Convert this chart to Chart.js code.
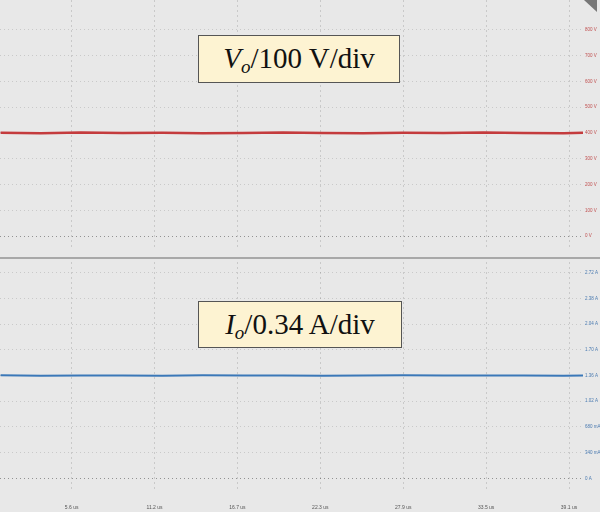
<!DOCTYPE html>
<html>
<head>
<meta charset="utf-8">
<script src="https://cdn.jsdelivr.net/npm/chart.js@4"></script>
<style>
  html, body { margin: 0; padding: 0; background: #e8e8e8; }
  #wrap { position: relative; width: 600px; height: 512px; overflow: hidden; background: #e8e8e8; }
  .panel { position: absolute; left: 0; width: 600px; }
  #topPanel { top: 0; height: 250px; }
  #botPanel { top: 262px; height: 250px; }
  #sep { position: absolute; left: 0; top: 257px; width: 600px; height: 2px; background: #a8a8a8; }
  .label {
    position: absolute; background: #fdf3d2; border: 1px solid #555;
    font-family: "Liberation Serif", "DejaVu Serif", serif; font-size: 29px; color: #111;
    line-height: 44px; text-align: center; white-space: nowrap;
  }
  .label sub { font-size: 19px; vertical-align: -5px; line-height: 0; }
  #marker { position: absolute; right: 3px; top: 0; width: 0; height: 0;
    border-left: 13px solid transparent; border-top: 12px solid #777; }
</style>
</head>
<body>
<div id="wrap">
  <div class="panel" id="topPanel"><canvas id="voChart"></canvas></div>
  <div id="sep"></div>
  <div class="panel" id="botPanel"><canvas id="ioChart"></canvas></div>
  <div class="label" style="left:198px; top:35px; width:200px; height:46px;"><i>V<sub>o</sub></i>/100 V/div</div>
  <div class="label" style="left:198px; top:301px; width:202px; height:45px;"><i>I<sub>o</sub></i>/0.34 A/div</div>
  <div id="marker"></div>
</div>
<script>
// ── DATA ──
const timeUs   = [0.8, 3.5, 6.2, 9.0, 11.7, 14.4, 17.1, 19.8, 22.5, 25.2, 27.9, 30.6, 33.3, 36.0, 38.7, 40.0];
const voVolts  = [401, 399, 402, 400, 401, 399, 400, 402, 400, 399, 401, 400, 402, 400, 399, 401];
const ioAmps   = [1.362, 1.358, 1.361, 1.360, 1.357, 1.362, 1.359, 1.361, 1.358, 1.360, 1.362, 1.359, 1.360, 1.361, 1.358, 1.360];

const xTickVals   = [5.58, 11.16, 16.74, 22.32, 27.9, 33.48, 39.06];
const xTickLabels = ['5.6 us', '11.2 us', '16.7 us', '22.3 us', '27.9 us', '33.5 us', '39.1 us'];

const voTickVals   = [0, 100, 200, 300, 400, 500, 600, 700, 800];
const voTickLabels = ['0 V', '100 V', '200 V', '300 V', '400 V', '500 V', '600 V', '700 V', '800 V'];

const ioTickVals   = [0, 0.34, 0.68, 1.02, 1.36, 1.70, 2.04, 2.38, 2.72];
const ioTickLabels = ['0 A', '340 mA', '680 mA', '1.02 A', '1.36 A', '1.70 A', '2.04 A', '2.38 A', '2.72 A'];

// ── SHARED HELPERS ──
const gridColor = 'rgba(80,80,80,0.2)';
// the zero line of each trace is a bit darker on the scope
const yGridColor = ctx => (ctx.tick && ctx.tick.value === 0) ? 'rgba(60,60,60,0.5)' : gridColor;

function fixedTicks(vals) {
    return scale => { scale.ticks = vals.map(v => ({ value: v })); };
}

function xAxis(showLabels) {
    return {
        type: 'linear',
        min: 0.76,
        max: 40.0,
        afterBuildTicks: fixedTicks(xTickVals),
        afterFit: s => { s.height = showLabels ? 20 : 0; s.paddingLeft = 0; s.paddingRight = 0; },
        border: { display: false, dash: [2, 3] },
        grid: { color: gridColor, drawTicks: false, lineWidth: 1 },
        ticks: {
            display: showLabels,
            color: '#555',
            font: { family: 'Liberation Sans', size: 5 },
            padding: 13,
            maxRotation: 0,
            callback: (v, i) => xTickLabels[i]
        }
    };
}

function yAxis(min, max, vals, labels, color) {
    return {
        position: 'right',
        min: min,
        max: max,
        afterBuildTicks: fixedTicks(vals),
        afterFit: s => { s.width = 17; s.paddingTop = 0; s.paddingBottom = 0; },
        border: { display: false, dash: [1, 3] },
        grid: { color: yGridColor, drawTicks: false },
        ticks: {
            color: color,
            font: { family: 'Liberation Sans', size: 4.5 },
            padding: 2,
            callback: (v, i) => labels[i]
        }
    };
}

function makeChart(id, values, color, width, y) {
    return new Chart(document.getElementById(id), {
        type: 'line',
        data: {
            datasets: [{
                data: timeUs.map((t, i) => ({ x: t, y: values[i] })),
                borderColor: color,
                borderWidth: width,
                pointRadius: 0,
                tension: 0
            }]
        },
        options: {
            responsive: false,
            animation: false,
            layout: { padding: 0 },
            plugins: { legend: { display: false }, tooltip: { enabled: false } },
            scales: { x: xAxis(id === 'ioChart'), y: y }
        }
    });
}

const c1 = document.getElementById('voChart');
c1.width = 600; c1.height = 250;
const c2 = document.getElementById('ioChart');
c2.width = 600; c2.height = 250;

// top panel: 0 V sits at y=236, 26 px per 100 V
makeChart('voChart', voVolts, '#c43b3d', 2.5,
    yAxis(-54, 916, voTickVals, voTickLabels, '#c05050'));
// bottom panel: 0 A sits at y=478, 26 px per 0.34 A
makeChart('ioChart', ioAmps, '#3b78b8', 2,
    yAxis(-0.18, 2.86, ioTickVals, ioTickLabels, '#4a7ab0'));
</script>
</body>
</html>
